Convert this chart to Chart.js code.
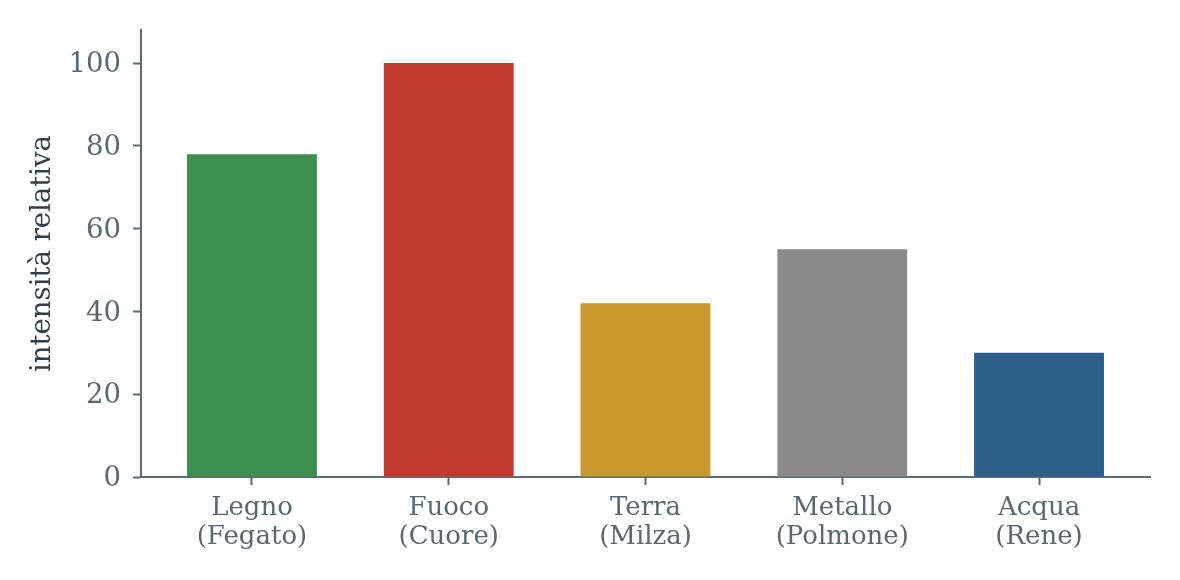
<!DOCTYPE html>
<html><head><meta charset="utf-8">
<script src="https://cdn.jsdelivr.net/npm/chart.js@4.4.1/dist/chart.umd.min.js"></script>
<style>html,body{margin:0;padding:0;background:#fff}#wrap{width:1180px;height:580px}</style>
</head><body><div id="wrap"><canvas id="c" width="1180" height="580"></canvas></div>
<script>
const categories = [["Legno","(Fegato)"],["Fuoco","(Cuore)"],["Terra","(Milza)"],["Metallo","(Polmone)"],["Acqua","(Rene)"]];
const values = [78, 100, 42, 55, 30];
const barColors = ["#3f8f4e", "#c0392b", "#c8992e", "#8b8b8b", "#2c5f89"];
const yTicks = [0, 20, 40, 60, 80, 100];
const yTitle = "intensità relativa";

const axisColor = "#5d6b75";
const FONT = "'DejaVu Serif', serif";

new Chart(document.getElementById('c'), {
  type: 'bar',
  data: {
    datasets: [{
      data: values.map((v, i) => ({x: i, y: v})),
      backgroundColor: barColors,
      borderWidth: 0,
      barPercentage: 0.66,
      categoryPercentage: 1.0
    }]
  },
  options: {
    responsive: false,
    animation: false,
    devicePixelRatio: 1,
    layout: {padding: {left: 0, right: 30, top: 30, bottom: 0}},
    plugins: {legend: {display: false}, tooltip: {enabled: false}},
    scales: {
      x: {
        type: 'linear',
        offset: false,
        min: -0.564, max: 4.564,
        afterBuildTicks: s => { s.ticks = categories.map((_, i) => ({value: i})); },
        afterFit: s => { s.height = 103; },
        grid: {offset: false, drawOnChartArea: false, drawTicks: true, tickLength: 8, tickWidth: 2, tickColor: axisColor},
        border: {display: true, color: axisColor, width: 2},
        ticks: {
          autoSkip: false, maxRotation: 0, padding: 9,
          color: "#5a6872",
          font: {family: FONT, size: 26, lineHeight: 1.1},
          callback: v => categories[v]
        }
      },
      y: {
        min: 0, max: 108,
        afterBuildTicks: s => { s.ticks = yTicks.map(v => ({value: v})); },
        afterFit: s => { s.width = 141; },
        grid: {drawOnChartArea: false, drawTicks: true, tickLength: 8, tickWidth: 2, tickColor: axisColor},
        border: {display: true, color: axisColor, width: 2},
        ticks: {
          padding: 12, color: "#5a6872", labelOffset: 2,
          font: {family: FONT, size: 27.5}
        },
        title: {
          display: true, text: yTitle, color: "#333f48",
          font: {family: FONT, size: 27.5}, padding: {top: 26, bottom: 0}
        }
      }
    }
  }
});
</script></body></html>
